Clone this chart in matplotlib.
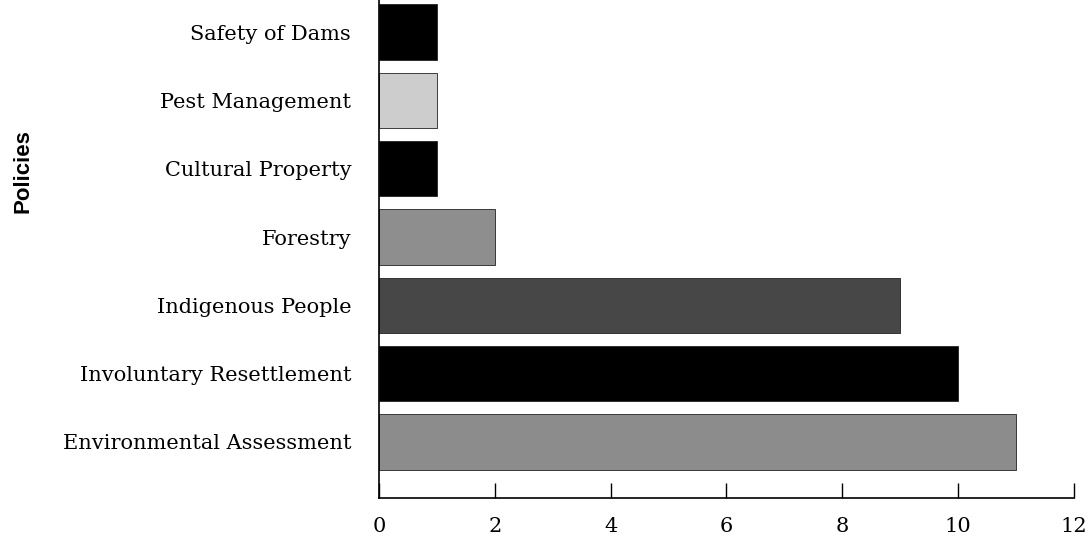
import matplotlib
matplotlib.use("Agg")
import matplotlib.pyplot as plt

# data (bottom to top)
policies = [
    "Environmental Assessment",
    "Involuntary Resettlement",
    "Indigenous People",
    "Forestry",
    "Cultural Property",
    "Pest Management",
    "Safety of Dams",
]
counts = [11, 10, 9, 2, 1, 1, 1]
bar_colors = ["#8c8c8c", "#000000", "#474747", "#8e8e8e", "#000000", "#cdcdcd", "#000000"]
x_ticks = [0, 2, 4, 6, 8, 10, 12]

fig = plt.figure(figsize=(10.9, 5.47), dpi=100)
ax = fig.add_axes([0.3477, 0.0896, 0.6376, 0.9104])

ypos = list(range(len(policies)))
ax.barh(ypos, counts, height=0.81, color=bar_colors, edgecolor="#222222", linewidth=0.6)

ax.set_xlim(0, 12)
ax.set_ylim(-0.82, 6.47)
ax.set_yticks(ypos)
ax.set_yticklabels(policies, family="DejaVu Serif", fontsize=15)
ax.set_xticks(x_ticks)
ax.set_xticklabels([str(t) for t in x_ticks], family="DejaVu Serif", fontsize=15)

ax.tick_params(axis="y", length=0, pad=20)
ax.tick_params(axis="x", direction="in", length=11, width=1, pad=14)

for side in ["top", "right"]:
    ax.spines[side].set_visible(False)
ax.spines["left"].set_linewidth(1.2)
ax.spines["bottom"].set_linewidth(1.2)

fig.text(0.021, 0.687, "Policies", rotation=90, ha="center", va="center",
         family=["Liberation Sans Narrow", "Liberation Sans"], fontweight="bold", fontsize=16)

fig.savefig("out.png", dpi=100)
